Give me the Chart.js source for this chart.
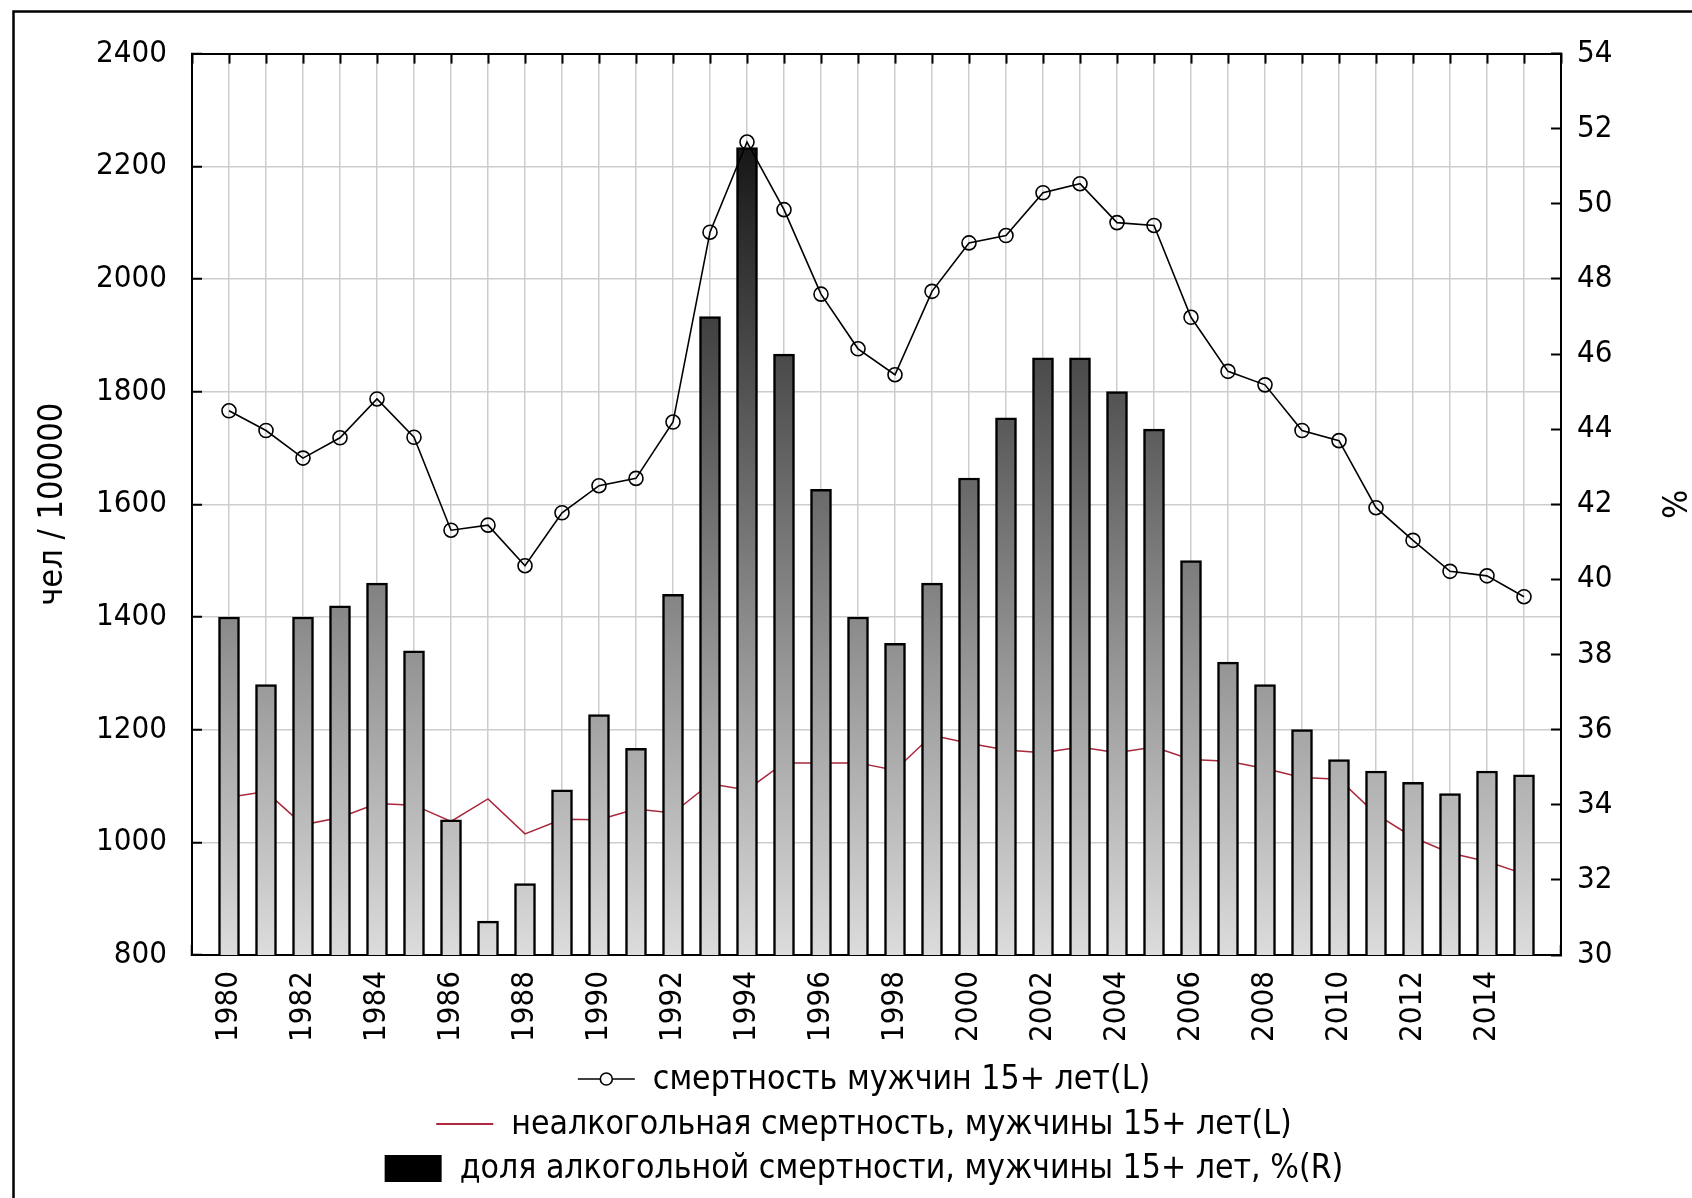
<!DOCTYPE html>
<html>
<head>
<meta charset="utf-8">
<script src="https://cdn.jsdelivr.net/npm/chart.js@4/dist/chart.umd.min.js"></script>
<style>
  html, body { margin: 0; padding: 0; background: #fff; }
  canvas { display: block; }
</style>
</head>
<body>
<canvas id="chart" width="1692" height="1198"></canvas>
<script>
// Mortality of men aged 15+ (per 100 000) and the alcohol-related share, 1980–2015
const years = [1980,1981,1982,1983,1984,1985,1986,1987,1988,1989,1990,1991,1992,1993,1994,1995,1996,1997,
               1998,1999,2000,2001,2002,2003,2004,2005,2006,2007,2008,2009,2010,2011,2012,2013,2014,2015];

// total mortality, men 15+ (left axis)
const totalMortality = [1766,1731,1682,1718,1787,1719,1554,1563,1491,1585,1633,1646,1746,2083,2243,2123,1973,1876,
                        1830,1978,2064,2077,2153,2169,2100,2095,1932,1836,1812,1731,1713,1594,1536,1481,1473,1436];

// non-alcohol mortality, men 15+ (left axis)
const nonAlcoholMortality = [1080,1090,1031,1044,1069,1066,1037,1077,1015,1041,1040,1059,1052,1104,1093,1141,1141,1141,
                             1128,1190,1176,1164,1159,1169,1159,1169,1147,1144,1131,1115,1112,1050,1009,981,966,944];

// alcohol-related share of mortality, men 15+, % (right axis)
const alcoholShare = [39.0,37.2,39.0,39.3,39.9,38.1,33.6,30.9,31.9,34.4,36.4,35.5,39.6,47.0,51.5,46.0,42.4,39.0,
                      38.3,39.9,42.7,44.3,45.9,45.9,45.0,44.0,40.5,37.8,37.2,36.0,35.2,34.9,34.6,34.3,34.9,34.8];

const yearTickLabels = [1980,1982,1984,1986,1988,1990,1992,1994,1996,1998,2000,2002,2004,2006,2008,2010,2012,2014];

const seriesNames = [
  'смертность мужчин 15+ лет(L)',
  'неалкогольная смертность, мужчины 15+ лет(L)',
  'доля алкогольной смертности, мужчины 15+ лет, %(R)'
];
const leftAxisTitle = 'чел / 100000';
const rightAxisTitle = '%';

const FONT = "'DejaVu Sans Condensed', 'DejaVu Sans', sans-serif";
Chart.defaults.font.family = FONT;
Chart.defaults.font.size = 31;
Chart.defaults.color = '#000';

const GRID = '#cdcdcd';

// vertical grey ramp shared by all bars: light at the baseline, black at the top of the plot
function barFill(ctx) {
  const chart = ctx.chart;
  const a = chart.chartArea;
  if (!a) return '#888';
  const g = chart.ctx.createLinearGradient(0, a.bottom, 0, a.top);
  g.addColorStop(0, '#dcdcdc');
  g.addColorStop(1, '#000000');
  return g;
}

// legend stacked in three centred rows plus the outer frame
const legendAndFrame = {
  id: 'legendAndFrame',
  afterDraw(chart) {
    const ctx = chart.ctx;
    ctx.save();
    ctx.strokeStyle = '#000';
    ctx.lineWidth = 2.5;
    ctx.beginPath();
    ctx.moveTo(13.5, 1198);
    ctx.lineTo(13.5, 11.5);
    ctx.lineTo(1692, 11.5);
    ctx.stroke();

    ctx.font = '33.5px ' + FONT;
    ctx.textBaseline = 'middle';
    ctx.textAlign = 'left';
    const centerX = 864;
    const rowY = [1079, 1124, 1168];
    const markW = 57, gap = 18;
    seriesNames.forEach((name, i) => {
      const tw = ctx.measureText(name).width;
      const x0 = centerX - (markW + gap + tw) / 2;
      const y = rowY[i];
      if (i === 0) {
        ctx.strokeStyle = '#000'; ctx.lineWidth = 1.6;
        ctx.beginPath(); ctx.moveTo(x0, y); ctx.lineTo(x0 + markW, y); ctx.stroke();
        ctx.fillStyle = '#fff';
        ctx.beginPath(); ctx.arc(x0 + markW / 2, y, 6, 0, Math.PI * 2); ctx.fill(); ctx.stroke();
      } else if (i === 1) {
        ctx.strokeStyle = '#b0283e'; ctx.lineWidth = 2;
        ctx.beginPath(); ctx.moveTo(x0, y); ctx.lineTo(x0 + markW, y); ctx.stroke();
      } else {
        ctx.fillStyle = '#000';
        ctx.fillRect(x0, y - 13, markW, 27);
      }
      ctx.fillStyle = '#000';
      ctx.fillText(name, x0 + markW + gap, y + 1);
    });
    ctx.restore();
  }
};

const points = (vals) => years.map((yr, i) => ({ x: yr, y: vals[i] }));

new Chart(document.getElementById('chart'), {
  type: 'bar',
  data: {
    datasets: [
      {
        type: 'line',
        label: seriesNames[0],
        data: points(totalMortality),
        xAxisID: 'x', yAxisID: 'y',
        borderColor: '#000', borderWidth: 1.6,
        pointRadius: 7, pointBorderWidth: 1.6,
        pointBorderColor: '#000', pointBackgroundColor: 'rgba(0,0,0,0)',
        tension: 0, order: 1
      },
      {
        type: 'line',
        label: seriesNames[1],
        data: points(nonAlcoholMortality),
        xAxisID: 'x', yAxisID: 'y',
        borderColor: '#a8283c', borderWidth: 1.5,
        pointRadius: 0, tension: 0, order: 3
      },
      {
        type: 'bar',
        label: seriesNames[2],
        data: points(alcoholShare),
        xAxisID: 'x', yAxisID: 'y1',
        backgroundColor: barFill,
        borderColor: '#000', borderWidth: 2.5,
        barThickness: 21, order: 2
      }
    ]
  },
  options: {
    responsive: false,
    animation: false,
    layout: { padding: { top: 51, left: 0, right: 0, bottom: 0 } },
    plugins: { legend: { display: false }, tooltip: { enabled: false } },
    scales: {
      x: {
        type: 'linear', position: 'bottom', min: 1979, max: 2016, offset: false,
        grid: { color: GRID, lineWidth: 1.5, tickLength: -10, tickColor: '#000', tickWidth: 2, offset: false },
        border: { color: '#000', width: 2 },
        ticks: {
          stepSize: 1, autoSkip: false, maxRotation: 90, minRotation: 90, padding: 26,
          callback: (v) => yearTickLabels.includes(v) ? String(v) : ''
        },
        afterFit: (s) => { s.height = 243; }
      },
      xTop: {
        type: 'linear', position: 'top', min: 1979, max: 2016, offset: false,
        grid: { drawOnChartArea: false, tickLength: -10, tickColor: '#000', tickWidth: 2, offset: false },
        border: { color: '#000', width: 2 },
        ticks: { stepSize: 1, display: false },
        afterFit: (s) => { s.height = 0; }
      },
      y: {
        type: 'linear', position: 'left', min: 800, max: 2400,
        grid: { color: GRID, lineWidth: 1.5, tickLength: -10, tickColor: '#000', tickWidth: 2 },
        border: { color: '#000', width: 2 },
        ticks: { stepSize: 200, padding: 35, callback: (v) => String(v) },
        title: { display: true, text: leftAxisTitle, font: { size: 34 }, padding: { top: 33, bottom: 0 } },
        afterFit: (s) => { s.width = 192; }
      },
      y1: {
        type: 'linear', position: 'right', min: 30, max: 54,
        grid: { drawOnChartArea: false, tickLength: -10, tickColor: '#000', tickWidth: 2 },
        border: { color: '#000', width: 2 },
        ticks: { stepSize: 2, padding: 26, callback: (v) => String(v) },
        title: { display: true, text: rightAxisTitle, font: { size: 34 }, padding: { top: 1, bottom: 0 } },
        afterFit: (s) => { s.width = 131; }
      }
    }
  },
  plugins: [legendAndFrame]
});
</script>
</body>
</html>
